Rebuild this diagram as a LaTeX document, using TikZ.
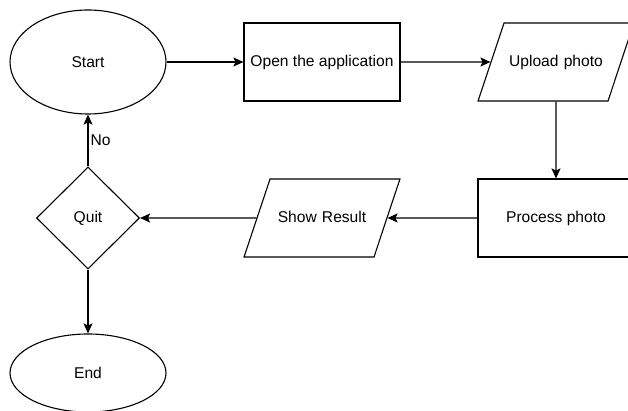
\documentclass[tikz,border=0pt]{standalone}
\usepackage{fontspec}
\setmainfont{Liberation Sans}
\usetikzlibrary{shapes.geometric,arrows.meta}

\begin{document}
\begin{tikzpicture}[x=1pt, y=1pt, line width=1.1pt,
    every node/.style={font=\fontsize{15.6}{18}\selectfont, inner sep=0pt},
    terminal/.style={draw, ellipse, minimum width=156pt, minimum height=104pt},
    process/.style={draw, rectangle, minimum width=156pt, minimum height=78pt},
    io/.style={draw, trapezium, trapezium left angle=71.6, trapezium right angle=108.4,
        text width=104pt, align=center, text height=44pt, text depth=34pt},
    decision/.style={draw, diamond, minimum width=103pt, minimum height=102pt},
    flow/.style={-{Stealth[length=10pt, width=9pt, inset=2pt]}}]
    \useasboundingbox (0,0) rectangle (628,-411);
    % top row
    \node[terminal] (start) at (88,-62) {Start};
    \node[process] (open) at (322,-62) {Open the application};
    \node[io] (upload) at (556,-62) {Upload photo};
    % middle row
    \node[process] (proc) at (556,-218) {Process photo};
    \node[io] (show) at (322,-218) {Show Result};
    \node[decision] (quit) at (88,-218) {Quit};
    % bottom
    \node[terminal, minimum height=78pt] (end) at (88,-373) {End};
    % connectors
    \draw[flow] (start) -- (open);
    \draw[flow] (open) -- (upload);
    \draw[flow] (upload) -- (proc);
    \draw[flow] (proc) -- (show);
    \draw[flow] (show) -- (quit);
    \draw[flow] (quit) -- node[right=2pt]{No} (start);
    \draw[flow] (quit) -- (end);
\end{tikzpicture}
\end{document}
